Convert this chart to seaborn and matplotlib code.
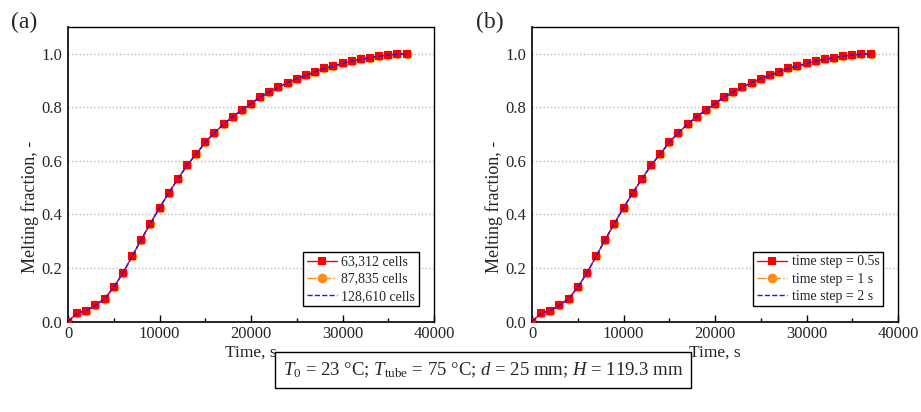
import matplotlib
matplotlib.use("Agg")
import matplotlib.pyplot as plt
import seaborn as sns
import numpy as np

sns.set_theme(style="white")
plt.rcParams['font.family'] = ['Liberation Serif', 'DejaVu Serif']
plt.rcParams['mathtext.fontset'] = 'custom'
plt.rcParams['mathtext.rm'] = 'Liberation Serif'
plt.rcParams['mathtext.it'] = 'Liberation Serif:italic'

time_s = [0, 1000, 2000, 3000, 4000, 5000, 6000, 7000, 8000, 9000,
          10000, 11000, 12000, 13000, 14000, 15000, 16000, 17000, 18000, 19000,
          20000, 21000, 22000, 23000, 24000, 25000, 26000, 27000, 28000, 29000,
          30000, 31000, 32000, 33000, 34000, 35000, 36000, 37000]

frac_base = [0.0, 0.031, 0.041, 0.061, 0.085, 0.128, 0.181, 0.243, 0.306, 0.366,
             0.424, 0.480, 0.532, 0.583, 0.625, 0.669, 0.705, 0.737, 0.765, 0.790,
             0.814, 0.838, 0.858, 0.876, 0.892, 0.907, 0.919, 0.933, 0.945, 0.954,
             0.964, 0.973, 0.979, 0.985, 0.991, 0.995, 0.998, 1.0]

# panel (a): mesh independence
cells_63312 = list(frac_base)
cells_87835 = list(frac_base)
cells_128610 = list(frac_base)
labels_a = ["63,312 cells", "87,835 cells", "128,610 cells"]

# panel (b): time step independence
step_05 = list(frac_base)
step_1 = list(frac_base)
step_2 = list(frac_base)
labels_b = ["time step = 0.5s", "time step = 1 s", "time step = 2 s"]

W, H = 921, 412
fig = plt.figure(figsize=(W / 100, H / 100), dpi=100)
ax_a = fig.add_axes([68/W, (H - 321.5)/H, 366/W, 294.5/H])
ax_b = fig.add_axes([532/W, (H - 321.5)/H, 366/W, 294.5/H])


def draw(ax, series, labels, tag, tag_x):
    s1, s2, s3 = series
    sns.lineplot(x=time_s, y=s2, ax=ax, color='#FF8C1A', marker='o', markersize=7,
                 markeredgewidth=0, linewidth=1, linestyle='-.', label=labels[1], zorder=2)
    sns.lineplot(x=time_s, y=s1, ax=ax, color='#FF0000', marker='s', markersize=6,
                 markeredgewidth=0, linewidth=1, linestyle='-', label=labels[0], zorder=3)
    sns.lineplot(x=time_s, y=s3, ax=ax, color='#1A1AE6', linewidth=1,
                 linestyle='--', label=labels[2], zorder=4)
    ax.set_xlim(0, 40000)
    ax.set_ylim(0, 1.1)
    ax.set_xticks([0, 10000, 20000, 30000, 40000])
    ax.set_xticks([5000, 15000, 25000, 35000], minor=True)
    ax.set_yticks([0.0, 0.2, 0.4, 0.6, 0.8, 1.0])
    ax.set_yticklabels(["0.0", "0.2", "0.4", "0.6", "0.8", "1.0"])
    ax.tick_params(axis='x', which='major', direction='in', length=5, width=1,
                   labelsize=12, color='black', bottom=True, pad=3)
    ax.tick_params(axis='x', which='minor', direction='in', length=3, width=1,
                   color='black', bottom=True)
    ax.tick_params(axis='y', direction='in', length=0, labelsize=12, left=True, pad=4)
    ax.grid(axis='y', color='#BBBBBB', linestyle=':', linewidth=1)
    ax.grid(axis='x', visible=False)
    for sp in ax.spines.values():
        sp.set_color('black')
        sp.set_linewidth(1)
    ax.spines['left'].set_linewidth(1.2)
    ax.spines['bottom'].set_linewidth(1.2)
    ax.set_xlabel("Time, s", fontsize=12.5, labelpad=2)
    ax.set_ylabel("Melting fraction, -", fontsize=13)
    ax.yaxis.set_label_coords(-0.08, 0.39)
    h, l = ax.get_legend_handles_labels()
    order = [1, 0, 2]
    leg = ax.legend([h[i] for i in order], [l[i] for i in order], loc='lower right',
                    fontsize=10, frameon=True, fancybox=False, framealpha=1,
                    edgecolor='black', borderpad=0.25, handlelength=2.2,
                    handletextpad=0.3, labelspacing=0.3, borderaxespad=1.1)
    leg.get_frame().set_linewidth(1)
    fig.text(tag_x / W, 1 - 22 / H, tag, fontsize=17, va='center', ha='center')


draw(ax_a, (cells_63312, cells_87835, cells_128610), labels_a, "(a)", 24)
draw(ax_b, (step_05, step_1, step_2), labels_b, "(b)", 490)

fig.text(483/W, 1 - 370/H,
         r"$T_0$ = 23 °C; $T_{\rm tube}$ = 75 °C; $d$ = 25 mm; $H$ = 119.3 mm",
         ha='center', va='center', fontsize=13.5, zorder=-1,
         bbox=dict(boxstyle='square,pad=0.42', facecolor='white', edgecolor='black', linewidth=1))

fig.savefig("out.png", dpi=100)
